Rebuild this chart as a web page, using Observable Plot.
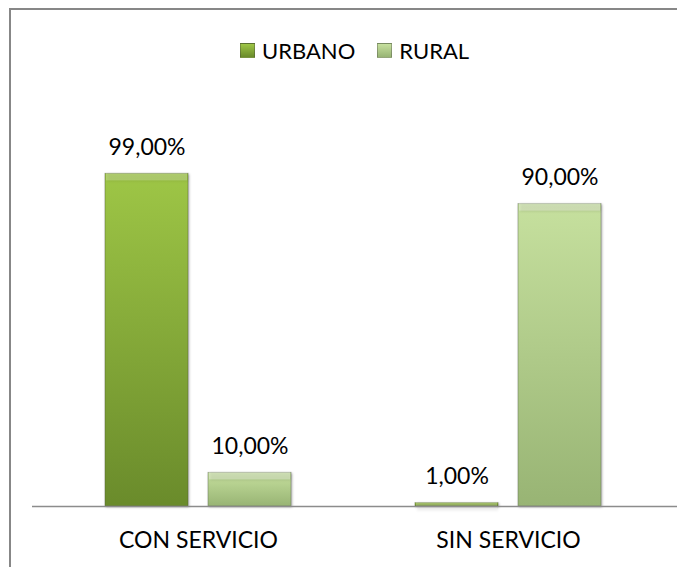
<!DOCTYPE html>
<html>
<head>
<meta charset="utf-8">
<script src="https://cdn.jsdelivr.net/npm/d3@7"></script>
<script src="https://cdn.jsdelivr.net/npm/@observablehq/plot@0.6"></script>
<style>
  html, body { margin: 0; padding: 0; background: #fff; overflow: hidden; }
  #wrap { position: relative; width: 677px; height: 567px; overflow: hidden; font-family: Lato, sans-serif; }
  #frame { position: absolute; left: 9px; top: 8px; width: 700px; height: 600px; border-left: 2px solid #878787; border-top: 2px solid #878787; box-sizing: border-box; pointer-events: none; }
  #legend { height: 70px; box-sizing: border-box; padding-top: 30px; padding-left: 240px; display: flex; align-items: center; font-size: 22px; color: #000; }
  .sw { width: 15px; height: 15px; box-sizing: border-box; border: 1px solid rgba(60,60,60,0.35); margin-right: 7px; }
  .item { display: flex; align-items: center; height: 20px; }
  #chart svg { display: block; }
</style>
</head>
<body>
<div id="wrap">
  <div id="legend"></div>
  <div id="chart"></div>
  <div id="frame"></div>
</div>
<script>
const categories = ["CON SERVICIO", "SIN SERVICIO"];
const series = ["URBANO", "RURAL"];
const urbano = [0.99, 0.01];
const rural = [0.10, 0.90];
const seriesTop = ["#9ec646", "#c6e09e"];
const seriesBottom = ["#6a8b2b", "#98b474"];

const fmt = v => (v * 100).toFixed(2).replace(".", ",") + "%";
const dataU = categories.map((c, i) => ({category: c, series: series[0], value: urbano[i]}));
const dataR = categories.map((c, i) => ({category: c, series: series[1], value: rural[i]}));

// legend
const legend = document.getElementById("legend");
series.forEach((s, i) => {
  const it = document.createElement("div");
  it.className = "item";
  it.style.marginRight = i === 0 ? "22px" : "0";
  const sw = document.createElement("div");
  sw.className = "sw";
  sw.style.background = `linear-gradient(${seriesTop[i]}, ${seriesBottom[i]})`;
  const t = document.createElement("span");
  t.textContent = s;
  it.appendChild(sw); it.appendChild(t);
  legend.appendChild(it);
});

const off = 51.5;
const barW = 103;
const plot = Plot.plot({
  width: 677,
  height: 497,
  marginTop: 100,
  marginBottom: 61,
  marginLeft: 32,
  marginRight: 0,
  style: {fontFamily: "Lato, sans-serif", fontSize: "23px", color: "#000", background: "transparent"},
  x: {domain: categories, type: "band", paddingInner: 0.4, paddingOuter: 0.24, align: 0.4866},
  y: {domain: [0, 1], axis: null},
  marks: [
    Plot.barY(dataU, {x: "category", y: "value", insetRight: barW, fill: "url(#gU)", stroke: "#4f5f30", strokeOpacity: 0.45, strokeWidth: 1}),
    Plot.barY(dataR, {x: "category", y: "value", insetLeft: barW, fill: "url(#gR)", stroke: "#5f6b50", strokeOpacity: 0.45, strokeWidth: 1}),
    Plot.barY(dataU, {x: "category", y1: "value", y2: "value", insetRight: barW + 1, insetLeft: 1, insetBottom: -7, insetTop: -1, fill: "#ffffff", fillOpacity: 0.22}),
    Plot.barY(dataR, {x: "category", y1: "value", y2: "value", insetLeft: barW + 1, insetRight: 1, insetBottom: -7, insetTop: -1, fill: "#ffffff", fillOpacity: 0.3}),
    Plot.ruleY([0], {stroke: "#8c8c8c", strokeWidth: 1.5}),
    Plot.text(dataU, {x: "category", y: "value", text: d => fmt(d.value), dx: -off, dy: -19, lineAnchor: "bottom", fill: "#000"}),
    Plot.text(dataR, {x: "category", y: "value", text: d => fmt(d.value), dx: off, dy: -19, lineAnchor: "bottom", fill: "#000"}),
    Plot.axisX({tickSize: 0, tickPadding: 25, label: null, fontSize: 23})
  ]
});

const defs = d3.select(plot).insert("defs", ":first-child");
[["gU", 0], ["gR", 1]].forEach(([id, i]) => {
  const g = defs.append("linearGradient").attr("id", id).attr("x1", 0).attr("y1", 0).attr("x2", 0).attr("y2", 1);
  g.append("stop").attr("offset", "0%").attr("stop-color", seriesTop[i]);
  g.append("stop").attr("offset", "100%").attr("stop-color", seriesBottom[i]);
});
d3.select(plot).selectAll("g[aria-label='bar']").style("filter", "drop-shadow(1px 1px 1px rgba(0,0,0,0.3))");
document.getElementById("chart").appendChild(plot);
</script>
</body>
</html>
